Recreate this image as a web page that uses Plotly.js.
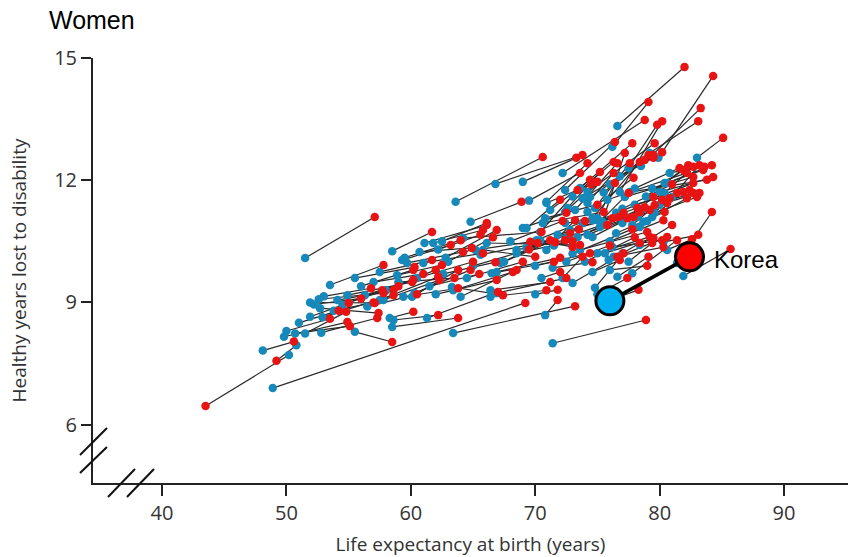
<!DOCTYPE html>
<html>
<head>
<meta charset="utf-8">
<script src="https://cdn.plot.ly/plotly-3.0.1.min.js"></script>
<style>html,body{margin:0;padding:0;background:#fff;}#chart{width:848px;height:557px;}</style>
</head>
<body>
<div id="chart"></div>
<script>
// Life expectancy (years) and healthy years lost to disability, women, by country
const le1990 = [48.9,50.2,51.5,71.4,70.8,81.9,76.6,79.9,83.0,63.4,
48.1,49.8,50.7,51.5,52.8,51.9,51.9,52.6,52.7,52.9,54.1,54.9,54.5,55.5,56.3,57.5,57.8,57.5,58.5,58.9,
58.3,58.6,58.5,59.3,59.7,59.4,60.1,60.3,61.3,53.5,60.7,61.0,61.1,61.8,64.2,63.3,63.4,64.0,64.8,65.2,
65.6,65.8,66.5,66.9,66.4,66.4,66.9,68.5,69.3,70.1,69.0,70.8,70.9,66.8,69.0,63.6,55.5,56.0,62.2,62.8,
63.0,62.6,62.0,62.5,59.5,
70.9,71.2,72.6,72.4,73.2,74.2,74.8,74.2,74.6,75.0,75.2,75.4,72.4,73.6,74.2,74.4,73.8,72.2,76.2,79.2,
78.5,77.5,76.8,77.0,77.8,78.2,78.4,78.7,80.4,80.4,81.0,80.8,80.6,80.0,77.6,77.2,75.8,76.5,78.0,78.6,
79.0,79.4,79.6,80.0,78.9,79.4,73.8,74.6,75.2,70.6,72.4,72.8,69.3,70.4,71.8,72.6,73.4,74.2,74.6,70.9,
76.0,76.5,73.6,75.0,75.6,76.2,75.9,76.3,76.6,77.8,78.4,80.3,80.6,81.4,67.2,68.5,69.4,70.4,66.1,70.0,
71.4,72.2,73.0,74.8,74.6,70.5,70.0,75.0,75.5,77.0,77.5,76.0,69.5,73.0,75.5,76.0,76.8,50.8,
50.0,51.0,52.2,53.0,53.8,55.0,56.5,57.0,58.0,59.0,60.5,61.5,64.5,65.0,67.5,68.0,71.5,73.0,74.0,72.5,77.0,78.0];
const yld1990 = [6.90,7.71,10.09,8.00,8.69,9.65,13.33,12.55,12.55,8.25,
7.82,8.16,8.24,8.24,8.26,8.65,9.00,9.08,8.86,8.64,9.06,9.18,8.94,8.28,9.18,9.06,9.06,9.75,10.26,9.67,
8.62,8.57,8.40,10.04,9.97,9.14,9.14,9.23,8.62,9.43,10.24,9.97,10.46,10.46,10.58,9.38,9.30,9.14,10.98,10.29,
10.17,10.29,9.72,9.75,9.30,9.14,9.23,10.21,10.34,10.53,10.83,11.07,11.44,11.91,11.96,11.47,9.60,9.40,10.30,10.10,
10.00,9.70,9.20,10.50,10.10,
11.47,11.27,11.32,11.22,11.27,11.44,11.32,11.22,11.07,11.07,10.98,10.98,11.76,11.81,11.71,11.59,11.56,12.18,12.82,12.67,
12.35,12.30,11.71,10.95,10.90,11.10,10.85,10.98,11.93,11.69,11.59,12.18,11.93,11.71,11.71,11.59,11.52,11.20,11.40,11.30,
11.00,11.10,11.20,11.40,11.60,11.80,10.95,11.02,10.85,10.95,10.95,10.78,10.83,10.73,10.66,10.61,10.61,10.66,10.61,10.29,
10.50,10.70,10.29,10.21,10.21,10.36,10.04,10.12,9.63,9.72,10.41,10.48,10.29,9.97,9.97,10.29,10.34,10.53,10.46,9.90,
9.85,9.60,9.48,9.36,9.75,9.60,9.20,9.20,9.00,10.20,10.00,9.80,11.50,11.60,11.70,11.90,12.10,7.95,
8.30,8.50,8.95,9.15,8.80,9.00,8.90,9.50,9.30,9.50,9.60,9.40,9.60,9.90,10.00,10.50,10.40,10.20,10.00,10.00,11.30,11.80];
const le2010 = [69.2,43.5,57.1,78.9,71.8,85.7,82.0,84.3,85.1,73.2,
50.6,54.9,55.1,54.8,57.3,55.0,57.1,57.8,57.4,58.6,58.6,60.1,57.7,58.5,60.2,62.2,62.3,61.7,61.7,62.5,
60.2,62.2,63.8,63.2,64.2,63.8,63.8,64.8,67.0,57.8,64.9,65.8,66.1,65.8,70.5,67.4,68.2,68.5,68.9,69.6,
70.2,70.0,71.5,72.0,71.2,70.9,72.5,73.0,73.5,74.0,72.5,75.0,74.5,73.8,73.3,70.6,60.3,60.2,65.6,66.9,
66.6,66.8,66.9,66.1,64.0,
74.2,74.4,75.2,75.0,76.6,76.3,77.6,77.9,78.4,76.4,77.5,77.2,76.4,77.8,79.6,79.5,80.2,78.8,79.1,83.1,
83.3,79.8,80.2,79.5,80.2,80.6,80.8,81.4,82.3,82.7,83.2,83.6,84.2,84.3,83.8,82.7,82.2,82.7,82.4,82.7,
81.9,82.2,83.0,83.2,81.9,83.5,77.1,77.4,77.9,75.5,76.2,76.7,72.0,73.4,78.2,78.4,78.8,79.2,79.6,73.2,
80.3,80.4,79.0,79.2,79.5,80.2,80.6,80.3,79.1,81.4,81.0,83.1,82.6,84.2,71.2,71.6,72.4,73.0,73.6,74.4,
74.6,73.8,76.6,77.1,76.8,72.0,71.8,77.4,78.3,78.4,79.4,79.0,73.6,76.3,78.8,79.1,79.5,49.2,
53.5,54.2,56.0,56.8,57.0,59.0,60.5,61.0,62.0,63.5,65.0,65.5,69.0,69.5,72.8,72.2,75.8,77.8,78.0,76.0,81.0,81.6];
const yld2010 = [8.99,6.46,11.10,8.57,9.06,10.31,14.78,14.56,13.04,8.91,
8.04,8.52,8.42,8.77,8.62,8.99,8.99,9.23,8.74,9.18,9.30,9.50,9.30,8.03,9.55,9.63,9.55,10.04,10.73,9.92,
8.77,8.69,8.62,10.41,10.24,9.35,9.80,9.80,9.26,9.92,10.34,10.21,10.90,10.78,10.73,9.18,9.75,9.80,11.47,10.49,
10.46,10.12,10.00,10.10,9.50,9.30,9.60,10.50,10.80,11.00,11.20,11.40,11.90,12.62,12.55,12.57,9.87,9.80,10.66,10.78,
10.60,9.99,9.55,10.95,10.53,
12.42,12.01,12.20,11.96,12.42,12.18,12.42,12.06,12.45,11.93,11.69,12.67,12.94,12.91,12.91,12.62,12.69,13.48,13.92,13.45,
13.77,13.36,13.45,11.59,11.52,11.44,11.56,11.69,12.37,12.33,12.37,12.33,12.37,12.08,12.01,12.08,12.18,11.93,11.76,11.69,
11.71,11.56,11.59,11.69,12.25,12.25,11.20,11.07,11.10,11.22,11.07,11.10,11.52,11.76,11.32,11.22,11.34,11.27,11.39,11.02,
11.02,11.22,10.73,10.61,10.58,10.53,10.61,10.36,10.12,10.53,10.90,10.66,10.55,11.22,10.53,10.48,10.53,10.36,10.41,10.21,
9.99,10.12,10.12,10.21,10.04,9.75,9.31,9.60,9.31,10.46,10.46,9.90,12.18,12.45,12.50,12.62,12.55,7.57,
8.60,8.80,9.10,9.35,9.00,9.40,9.20,9.70,9.80,9.60,10.00,9.70,10.00,10.30,10.70,11.00,10.90,10.80,10.60,10.40,11.90,12.30];

const koreaLE = [76.0, 82.4];
const koreaYLD = [9.04, 10.12];
const koreaLabel = "Korea";

const xTicks = [40, 50, 60, 70, 80, 90];
const yTicks = [6, 9, 12, 15];

// connecting segments
const segX = [], segY = [];
for (let i = 0; i < le1990.length; i++) {
  segX.push(le1990[i], le2010[i], null);
  segY.push(yld1990[i], yld2010[i], null);
}

const tickFont = {family: "Open Sans, sans-serif", size: 20, color: "#333"};
const titleFont = {family: "Open Sans, sans-serif", size: 19, color: "#333"};

const traces = [
  {x: segX, y: segY, mode: "lines", type: "scatter", line: {color: "#2a2a2a", width: 1.2}, hoverinfo: "skip", showlegend: false, cliponaxis: false},
  {x: le1990, y: yld1990, mode: "markers", type: "scatter", name: "1990", marker: {color: "#1689ba", size: 8.5}, showlegend: false, cliponaxis: false},
  {x: le2010, y: yld2010, mode: "markers", type: "scatter", name: "2010", marker: {color: "#e81414", size: 8.5}, showlegend: false, cliponaxis: false},
  {x: koreaLE, y: koreaYLD, mode: "lines", type: "scatter", line: {color: "#000", width: 3.5}, showlegend: false, hoverinfo: "skip"},
  {x: [koreaLE[0]], y: [koreaYLD[0]], mode: "markers", type: "scatter", name: "Korea 1990", marker: {color: "#00b0f0", size: 28, line: {color: "#000", width: 3}}, showlegend: false, cliponaxis: false},
  {x: [koreaLE[1]], y: [koreaYLD[1]], mode: "markers", type: "scatter", name: "Korea 2010", marker: {color: "#ff0000", size: 28, line: {color: "#000", width: 3}}, showlegend: false, cliponaxis: false}
];

function brk(x0, y0, x1, y1) {
  return {type: "line", xref: "paper", yref: "paper", x0: x0, y0: y0, x1: x1, y1: y1, line: {color: "#111", width: 2}};
}

const layout = {
  width: 848, height: 557,
  margin: {l: 93, r: 0, t: 58, b: 74},
  paper_bgcolor: "#fff", plot_bgcolor: "#fff",
  showlegend: false,
  title: {text: "Women", x: 49/848, xanchor: "left", y: 1 - 20/557, yanchor: "middle",
          font: {family: "Liberation Sans, Arial, sans-serif", size: 25, color: "#000"}},
  xaxis: {range: [34.45, 95.14], tickvals: xTicks, ticktext: xTicks.map(String),
          showline: true, linecolor: "#222", linewidth: 2, ticks: "outside", ticklen: 11, tickwidth: 2, tickcolor: "#222",
          showgrid: false, zeroline: false, tickfont: tickFont,
          title: {text: "Life expectancy at birth (years)", font: titleFont, standoff: 13}},
  yaxis: {range: [4.57, 15], tickvals: yTicks, ticktext: yTicks.map(String),
          showline: true, linecolor: "#222", linewidth: 2, ticks: "outside", ticklen: 10, tickwidth: 2, tickcolor: "#222",
          showgrid: false, zeroline: false, tickfont: tickFont,
          title: {text: "Healthy years lost to disability", font: titleFont, standoff: 22}},
  annotations: [
    {x: koreaLE[1], y: koreaYLD[1], xref: "x", yref: "y", text: koreaLabel, showarrow: false,
     xanchor: "left", yanchor: "middle", xshift: 22, yshift: -3,
     font: {family: "Liberation Sans, Arial, sans-serif", size: 24, color: "#000"}}
  ],
  shapes: [
    brk(-0.0172, 0.0659, 0.0185, 0.1294),
    brk(-0.0172, 0.0235, 0.0185, 0.0847),
    brk(0.0199, -0.0329, 0.0556, 0.0329),
    brk(0.0450, -0.0329, 0.0808, 0.0329)
  ]
};

Plotly.newPlot("chart", traces, layout, {staticPlot: true, displayModeBar: false});
</script>
</body>
</html>
